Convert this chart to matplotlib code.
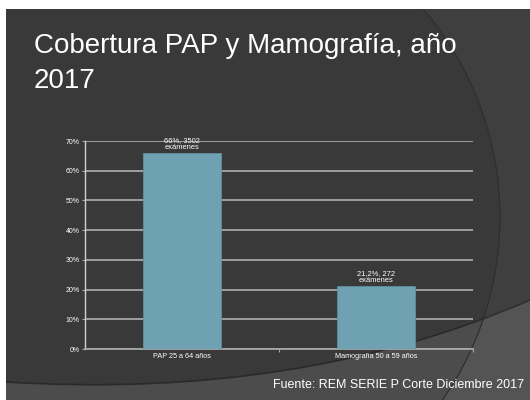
import matplotlib.pyplot as plt
from matplotlib.patches import Rectangle, Circle, PathPatch
from matplotlib.path import Path

categories = ['PAP 25 a 64 años', 'Mamografía 50 a 59 años']
coverage = [66.0, 21.2]
bar_labels = ['66%, 3502\nexámenes', '21,2%, 272\nexámenes']
y_ticks = [0, 10, 20, 30, 40, 50, 60, 70]

plt.rcParams['font.family'] = ['Liberation Sans', 'DejaVu Sans']

fig = plt.figure(figsize=(5.3, 4), dpi=100)
fig.patch.set_facecolor('white')

# slide background, drawn in pixel coordinates
bg = fig.add_axes([0, 0, 1, 1], zorder=-10)
bg.set_xlim(0, 530)
bg.set_ylim(400, 0)
bg.axis('off')
slide = Rectangle((6, 9), 524, 391, facecolor='#3f3f3f', edgecolor='none')
bg.add_patch(slide)
curve = [(6, 382), (300, 400), (530, 300)]
lower = Path(curve + [(530, 400), (6, 400), (6, 382)],
             [Path.MOVETO, Path.CURVE3, Path.CURVE3, Path.LINETO, Path.LINETO, Path.CLOSEPOLY])
bg.add_patch(PathPatch(lower, facecolor='#545454', edgecolor='none'))
bg.add_patch(PathPatch(Path(curve, [Path.MOVETO, Path.CURVE3, Path.CURVE3]),
                       facecolor='none', edgecolor='#2f2f2f', lw=1.2))
circ = Circle((180, 217), 320, facecolor=(0, 0, 0, 0.09), edgecolor='#2f2f2f', lw=0.9)
bg.add_patch(circ)
circ.set_clip_path(slide)

fig.text(0.064, 1 - 53 / 400, 'Cobertura PAP y Mamografía, año', color='white',
         fontsize=20, va='baseline', ha='left')
fig.text(0.064, 1 - 88 / 400, '2017', color='white',
         fontsize=20, va='baseline', ha='left')
fig.text(0.516, 0.022, 'Fuente: REM SERIE P Corte Diciembre 2017', color='white',
         fontsize=9, va='bottom', ha='left')

ax = fig.add_axes([0.1604, 0.1275, 0.732, 0.52])
ax.set_facecolor('none')
x = range(len(categories))
bars = ax.bar(x, coverage, width=0.4, color='#6ea1b1', edgecolor='#5f8f9e', lw=0.6, zorder=3)
for b, lab in zip(bars, bar_labels):
    ax.annotate(lab, (b.get_x() + b.get_width() / 2, b.get_height()), xytext=(0, 1.5),
                textcoords='offset points', ha='center', va='bottom', fontsize=5.4,
                color='white', linespacing=1.05, zorder=4)

ax.set_xlim(-0.5, 1.5)
ax.set_ylim(0, 70)
ax.set_yticks(y_ticks)
ax.set_yticklabels([f'{t}%' for t in y_ticks], fontsize=5, color='white')
ax.set_xticks(list(x))
ax.set_xticklabels(categories, fontsize=5.2, color='white')
ax.set_xticks([0.5, 1.5], minor=True)
ax.tick_params(axis='x', which='major', length=0, pad=3)
ax.tick_params(axis='x', which='minor', length=2, color='#a6a6a6', width=0.8)
ax.tick_params(axis='y', length=2, color='#a6a6a6', width=0.8, pad=2)
ax.yaxis.grid(True, color='#a6a6a6', lw=1.3, zorder=1)
ax.set_axisbelow(True)
for s in ['top', 'right']:
    ax.spines[s].set_visible(False)
ax.spines['left'].set_color('#d0d0d0')
ax.spines['left'].set_linewidth(1.0)
ax.spines['bottom'].set_color('#a6a6a6')
ax.spines['bottom'].set_linewidth(1.3)

fig.savefig('out.png', dpi=100, facecolor=fig.get_facecolor())
